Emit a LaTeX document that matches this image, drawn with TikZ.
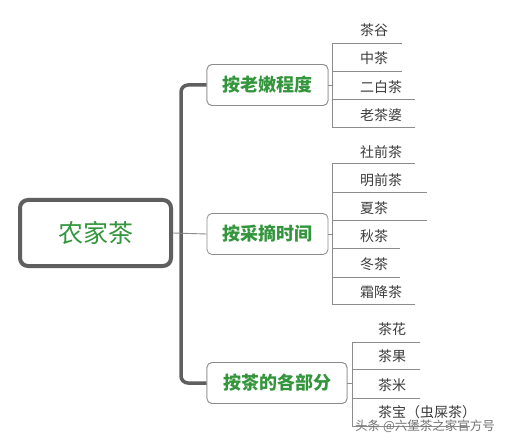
\documentclass[tikz,border=0pt]{standalone}
\usepackage{fontspec}
\setmainfont{Noto Sans CJK SC}
\newfontfamily\cjk{Noto Sans CJK SC}
\definecolor{tgreen}{RGB}{52,150,60}
\definecolor{spinegray}{RGB}{95,95,95}
\definecolor{linegray}{RGB}{140,140,140}
\definecolor{leaftext}{RGB}{60,60,60}
\tikzset{
  rootbox/.style={draw=spinegray, line width=4pt, rounded corners=8pt, fill=white,
    minimum width=151pt, minimum height=66pt, inner sep=0pt,
    text=tgreen, font=\cjk\fontsize{25}{25}\selectfont},
  groupbox/.style={draw=linegray, line width=0.8pt, rounded corners=5pt, fill=white,
    minimum height=41pt, inner sep=0pt, text=tgreen,
    font=\cjk\bfseries\fontsize{18}{18}\selectfont},
  leaf/.style={anchor=west, inner sep=0pt, text=leaftext, font=\cjk\fontsize{14}{14}\selectfont},
  uline/.style={draw=linegray, line width=0.9pt},
  spine/.style={draw=spinegray, line width=3.5pt, rounded corners=7pt},
  thinline/.style={draw=linegray, line width=0.9pt},
  wmark/.style={anchor=west, inner sep=0pt, text=black!55, font=\cjk\fontsize{12.5}{12.5}\selectfont}
}
\begin{document}
\begin{tikzpicture}[x=1pt,y=-1pt]
\useasboundingbox[fill=white] (0,0) rectangle (510,443);

% spine coordinate
\coordinate (spx) at (181,233);

% root and groups
\node[groupbox, minimum width=121pt] (g1) at (267.5,85) {按老嫩程度};
\node[groupbox, minimum width=121pt] (g2) at (267.5,234) {按采摘时间};
\node[groupbox, minimum width=140pt] (g3) at (277,383) {按茶的各部分};

\draw[spine] (g1.west) -| (spx) |- (g3.west);
\node[groupbox, minimum width=121pt] at (g1) {按老嫩程度};
\node[groupbox, minimum width=140pt] at (g3) {按茶的各部分};

\node[rootbox] (root) at (95.5,233) {农家茶};
\draw[thinline] (root.east) -- (g2.west);

% ---------- group 1 ----------
\node[leaf] (a1) at (360,30) {茶谷};
\node[leaf] (a2) at (360,58) {中茶};
\node[leaf] (a3) at (360,87) {二白茶};
\node[leaf] (a4) at (360,115) {老茶婆};
\coordinate (a1s) at (332,43);  \coordinate (a1e) at (402,43);
\coordinate (a2s) at (332,71);  \coordinate (a2e) at (402,71);
\coordinate (a3s) at (332,99);  \coordinate (a3e) at (415,99);
\coordinate (a4s) at (332,127); \coordinate (a4e) at (415,127);
\foreach \i in {1,...,4} {\draw[uline] (a\i s) -- (a\i e);}
\draw[uline] (a1s) -- (a4s);
\draw[thinline] (g1.east) -- (g1.east -| a1s);

% ---------- group 2 ----------
\node[leaf] (b1) at (360,152) {社前茶};
\node[leaf] (b2) at (360,180) {明前茶};
\node[leaf] (b3) at (360,208) {夏茶};
\node[leaf] (b4) at (360,236) {秋茶};
\node[leaf] (b5) at (360,264) {冬茶};
\node[leaf] (b6) at (360,292) {霜降茶};
\coordinate (b1s) at (332,163); \coordinate (b1e) at (415,163);
\coordinate (b2s) at (332,192); \coordinate (b2e) at (427,192);
\coordinate (b3s) at (332,220); \coordinate (b3e) at (427,220);
\coordinate (b4s) at (332,248); \coordinate (b4e) at (400,248);
\coordinate (b5s) at (332,277); \coordinate (b5e) at (400,277);
\coordinate (b6s) at (332,304); \coordinate (b6e) at (415,304);
\foreach \i in {1,...,6} {\draw[uline] (b\i s) -- (b\i e);}
\draw[uline] (b1s) -- (b6s);
\draw[thinline] (g2.east) -- (g2.east -| b1s);

% ---------- group 3 ----------
\node[leaf] (c1) at (378,329) {茶花};
\node[leaf] (c2) at (378,356) {茶果};
\node[leaf] (c3) at (378,385) {茶米};
\node[leaf] (c4) at (378,412) {茶宝（虫屎茶）};
\coordinate (c1s) at (352,342); \coordinate (c1e) at (420,342);
\coordinate (c2s) at (352,369); \coordinate (c2e) at (420,369);
\coordinate (c3s) at (352,398); \coordinate (c3e) at (420,398);
\coordinate (c4s) at (352,426); \coordinate (c4e) at (470,426);
\foreach \i in {1,...,4} {\draw[uline] (c\i s) -- (c\i e);}
\draw[uline] (c1s) -- (c4s);
\draw[thinline] (g3.east) -- (g3.east -| c1s);

% watermark
\node[wmark] (wm) at (355,426) {头条 @六堡茶之家官方号};
\end{tikzpicture}
\end{document}
